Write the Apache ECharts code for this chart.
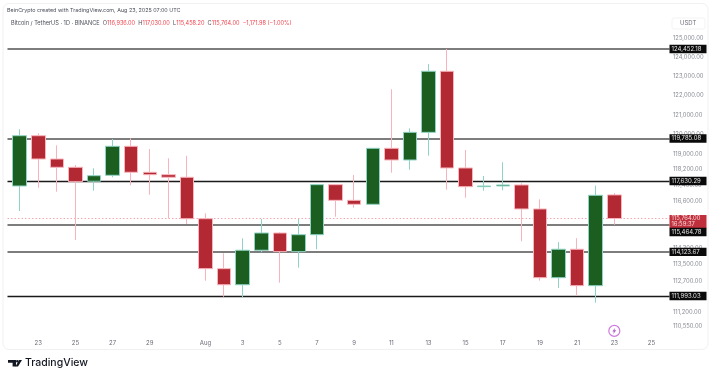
<!DOCTYPE html>
<html><head><meta charset="utf-8">
<style>html,body{margin:0;padding:0;background:#fff}#c{width:711px;height:368px}</style>
<script src="https://cdn.jsdelivr.net/npm/echarts@6/dist/echarts.min.js"></script>
</head><body><div id="c"></div>
<script>
const dates=['Jul 22','Jul 23','Jul 24','Jul 25','Jul 26','Jul 27','Jul 28','Jul 29','Jul 30','Jul 31','Aug 1','Aug 2','Aug 3','Aug 4','Aug 5','Aug 6','Aug 7','Aug 8','Aug 9','Aug 10','Aug 11','Aug 12','Aug 13','Aug 14','Aug 15','Aug 16','Aug 17','Aug 18','Aug 19','Aug 20','Aug 21','Aug 22','Aug 23'];
const opens=[117382,119929,118742,118323,117618,117919,119388,118071,117950,117819,115753,113311,112535,114205,115049,114137,114966,117448,116666,116468,119286,118692,120102,123274,118288,117347,117382,117433,116236,112875,114254,112490,116936];
const closes=[119929,118742,118323,117598,117899,119388,118071,117950,117819,115753,113311,112535,114205,115049,114137,114966,117448,116666,116468,119286,118692,120102,123274,118288,117347,117382,117433,116236,112875,114254,112490,116916,115764];
const lows=[116134,117297,117096,114707,117146,117819,117418,116945,115773,115492,112730,111962,111914,114107,112631,113359,114254,115852,116299,116433,118050,118202,118909,117196,116796,117146,117166,114640,112730,112379,111995,111677,115458];
const highs=[120255,120051,119439,118439,118273,119760,119796,119250,118778,118909,116020,114059,114786,115738,115084,115738,117483,117468,117935,119302,122332,120306,123656,124452,119199,117884,118576,117518,116714,114605,114795,117402,117030];
const xTickPos=[1,3,5,7,10,12,14,16,18,20,22,24,26,28,30,32,34];
const xTickLabels=['23','25','27','29','Aug','3','5','7','9','11','13','15','17','19','21','23','25'];
const yTicks=[125000,124000,123000,122000,121000,120000,119000,118200,117400,116600,114300,113500,112700,111200,110550];
const levels=[124452.18,119785.08,117630.29,115464.78,114123.67,111993.03];
const levelStrong=[false,false,true,false,false,true];
const levelLabelShift=[0,0,0,7.5,0,0];
const lastPrice=115764.00;
const lastCountdown='16:59:37';
const eventPos=[32,110340];

const fmt=v=>v.toLocaleString('en-US',{minimumFractionDigits:2,maximumFractionDigits:2});
const FONT='Inter, "Liberation Sans", sans-serif';
const RED='#f0444f';
const chart=echarts.init(document.getElementById('c'),null,{renderer:'canvas'});
const levelLines=levels.map((v,i)=>({
  yAxis:v,
  lineStyle:{color:levelStrong[i]?'#1a1a1a':'#7d7d7d',width:levelStrong[i]?1.3:1.8,type:'solid'},
  label:{show:true,position:'end',distance:0,formatter:()=>fmt(v),color:'#e6e6e6',backgroundColor:'#0a0a0a',
    fontFamily:FONT,fontSize:6,align:'left',width:33,padding:[1.2,2,1.2,2],offset:[0,levelLabelShift[i]]}
}));
levelLines.unshift({
  yAxis:lastPrice,
  lineStyle:{color:'#f4a9b2',width:1,type:[1.5,2]},
  label:{show:true,position:'end',distance:0,formatter:()=>fmt(lastPrice)+'\n'+lastCountdown,color:'#f6d9dc',backgroundColor:'#bf2f3c',
    fontFamily:FONT,fontSize:5.8,lineHeight:6.4,align:'left',width:33,padding:[0,2,0,2],offset:[0,3]}
});
chart.setOption({
  animation:false,
  backgroundColor:'#ffffff',
  title:[
    {text:'BeinCrypto created with TradingView.com, Aug 23, 2025 07:00 UTC',left:2,top:2.5,textStyle:{fontFamily:FONT,fontSize:5.4,fontWeight:'normal',color:'#4a4e59'}},
    {text:'{k|Bitcoin / TetherUS · 1D · BINANCE  O}{r|116,936.00}{k|  H}{r|117,030.00}{k|  L}{r|115,458.20}{k|  C}{r|115,764.00}{r|  −1,171.98 (−1.00%)}',left:6,top:15,
     textStyle:{fontWeight:'normal',rich:{k:{fontFamily:FONT,fontSize:5.6,fontWeight:'normal',color:'#4a4e59'},r:{fontFamily:FONT,fontSize:5.6,fontWeight:'normal',color:RED}}}}
  ],
  grid:{left:7.5,right:41.5,top:10,height:325,containLabel:false},
  xAxis:{type:'value',min:-0.657,max:34.97,splitLine:{show:false},axisLine:{show:false},axisTick:{show:false},
    axisLabel:{customValues:xTickPos,margin:5,fontFamily:FONT,fontSize:6,color:'#6a6d78',showMinLabel:true,showMaxLabel:true,
      formatter:v=>xTickLabels[xTickPos.indexOf(v)]||''}},
  yAxis:{type:'log',logBase:10,position:'right',min:110146,max:126542,splitLine:{show:false},axisLine:{show:false},axisTick:{show:false},minorTick:{show:false},
    axisLabel:{show:false}},
  graphic:[
    {type:'rect',z:-1,shape:{x:3,y:3.5,width:705,height:346,r:6},style:{fill:'none',stroke:'#f1f1f3',lineWidth:1}},
    {type:'rect',z:1,shape:{x:672,y:18,width:33,height:11,r:2},style:{fill:'#fff',stroke:'#f0f0f2',lineWidth:0.8}},
    {type:'text',z:2,x:680,y:20.5,style:{text:'USDT',fontFamily:FONT,fontSize:6,fill:'#6a6d78'}},
    {type:'polygon',z:2,shape:{points:[[8,360],[16,360],[16,366.5],[12.6,366.5],[12.6,362.8],[8,362.8]]},style:{fill:'#131722'}},
    {type:'polygon',z:2,shape:{points:[[19,360],[22,360],[18,366.5],[15.5,366.5]]},style:{fill:'#131722'}},
    {type:'circle',z:2,shape:{cx:17.3,cy:361.3,r:1.3},style:{fill:'#131722'}},
    {type:'text',z:2,x:25,y:357,style:{text:'TradingView',fontFamily:FONT,fontSize:10.5,fontWeight:500,fill:'#131722'}}
  ],
  series:[
    {type:'candlestick',z:3,barWidth:14,
     data:dates.map((d,i)=>[i,opens[i],closes[i],lows[i],highs[i]]),
     encode:{x:0,y:[1,2,3,4]},
     itemStyle:{color:'#1b5e20',color0:'#b22833',borderColor:'#8fd3c4',borderColor0:'#f8b4bc',borderWidth:1},
     markLine:{silent:true,symbol:'none',z:1,precision:2,data:levelLines}
    },
    {type:'scatter',clip:false,data:yTicks.map(v=>[34.97,v]),symbolSize:0,silent:true,
     label:{show:true,position:'right',distance:3.5,formatter:p=>fmt(p.value[1]),fontFamily:FONT,fontSize:5.8,color:'#6a6d78'},z:0},
    {type:'scatter',z:4,data:[eventPos],symbol:'circle',symbolSize:11,silent:true,itemStyle:{color:'#fff',borderColor:'#c25ad6',borderWidth:1.2}},
    {type:'scatter',z:5,data:[eventPos],symbol:'path://M6 0L1 7H4L3 12L9 4.5H5.6Z',symbolSize:[4,6],silent:true,itemStyle:{color:'#a33fc0'}}
  ]
});
</script></body></html>
